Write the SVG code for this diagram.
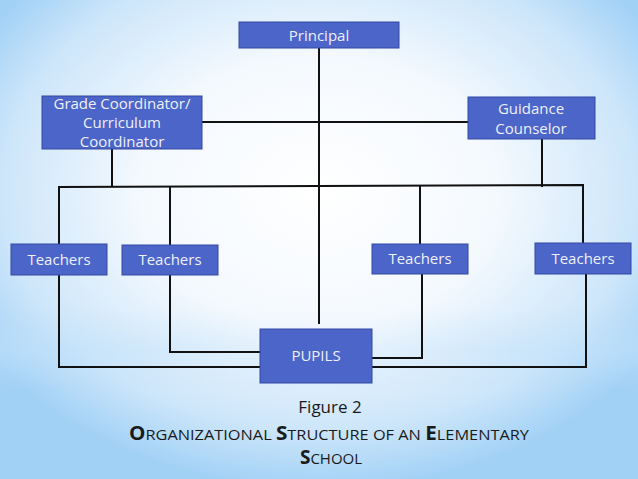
<svg xmlns="http://www.w3.org/2000/svg" width="638" height="479" viewBox="0 0 638 479">
<defs>
<radialGradient id="bg" cx="0.5" cy="0.4" r="0.62" fx="0.5" fy="0.4">
<stop offset="0" stop-color="#ffffff"/>
<stop offset="0.45" stop-color="#f4f9fe"/>
<stop offset="0.8" stop-color="#cde6fa"/>
<stop offset="1" stop-color="#a2d1f6"/>
</radialGradient>
<linearGradient id="band" x1="0" y1="0" x2="0" y2="1">
<stop offset="0" stop-color="#bfe0fa" stop-opacity="0"/>
<stop offset="0.5" stop-color="#bfe0fa" stop-opacity="0.55"/>
<stop offset="1" stop-color="#bfe0fa" stop-opacity="0"/>
</linearGradient>
<linearGradient id="bandmask" x1="0" y1="0" x2="1" y2="0">
<stop offset="0" stop-color="#fff" stop-opacity="1"/>
<stop offset="0.4" stop-color="#fff" stop-opacity="0.3"/>
<stop offset="0.6" stop-color="#fff" stop-opacity="0.3"/>
<stop offset="1" stop-color="#fff" stop-opacity="1"/>
</linearGradient>
<mask id="m"><rect width="638" height="479" fill="url(#bandmask)"/></mask>
</defs>
<style>
.box{fill:#4c65c8;stroke:#3349a3;stroke-width:1}
.lbl{font-family:"Open Sans","Noto Sans",sans-serif;font-size:15px;fill:#eef0fa;text-anchor:middle}
.ln{stroke:#111;stroke-width:2;fill:none}
.cap{font-family:"Open Sans","Noto Sans",sans-serif;fill:#1a1a1a;text-anchor:middle}
</style>
<rect width="638" height="479" fill="url(#bg)"/>
<rect x="0" y="310" width="638" height="80" fill="url(#band)" mask="url(#m)"/>

<g id="connectors">
<line class="ln" x1="319" y1="48" x2="319" y2="324"/>
<line class="ln" x1="202" y1="122" x2="468" y2="122"/>
<line class="ln" x1="112" y1="149" x2="112" y2="187"/>
<line class="ln" x1="542" y1="139" x2="542" y2="187"/>
<polyline class="ln" points="59,244 59,187 583,185 583,243"/>
<line class="ln" x1="170" y1="187" x2="170" y2="245"/>
<line class="ln" x1="420" y1="186" x2="420" y2="244"/>
<polyline class="ln" points="59,275 59,367 260,367"/>
<polyline class="ln" points="170,275 170,352 260,352"/>
<polyline class="ln" points="422,274 422,358 372,358"/>
<polyline class="ln" points="586,274 586,367 372,367"/>
</g>

<g id="principal">
<rect class="box" x="239" y="22" width="160" height="26"/>
<text class="lbl" x="319" y="41">Principal</text>
</g>
<g id="grade-coordinator">
<rect class="box" x="42" y="96" width="160" height="53"/>
<text class="lbl" x="122" y="109">Grade Coordinator/</text>
<text class="lbl" x="122" y="128">Curriculum</text>
<text class="lbl" x="122" y="147">Coordinator</text>
</g>
<g id="guidance-counselor">
<rect class="box" x="468" y="97" width="127" height="42"/>
<text class="lbl" x="531" y="114">Guidance</text>
<text class="lbl" x="531" y="134">Counselor</text>
</g>
<g id="teachers-1">
<rect class="box" x="11" y="244" width="96" height="31"/>
<text class="lbl" x="59" y="265">Teachers</text>
</g>
<g id="teachers-2">
<rect class="box" x="122" y="245" width="96" height="30"/>
<text class="lbl" x="170" y="265">Teachers</text>
</g>
<g id="teachers-3">
<rect class="box" x="372" y="244" width="96" height="30"/>
<text class="lbl" x="420" y="264">Teachers</text>
</g>
<g id="teachers-4">
<rect class="box" x="535" y="243" width="96" height="31"/>
<text class="lbl" x="583" y="264">Teachers</text>
</g>
<g id="pupils">
<rect class="box" x="260" y="329" width="112" height="54"/>
<text class="lbl" x="316" y="361">PUPILS</text>
</g>

<g id="caption">
<text class="cap" x="330" y="413" font-size="17">Figure 2</text>
<text class="cap" x="329" y="440" font-size="15" textLength="400" lengthAdjust="spacingAndGlyphs"><tspan font-size="19" font-weight="bold">O</tspan>RGANIZATIONAL <tspan font-size="19" font-weight="bold">S</tspan>TRUCTURE OF AN <tspan font-size="19" font-weight="bold">E</tspan>LEMENTARY</text>
<text class="cap" x="331" y="464" font-size="15"><tspan font-size="19" font-weight="bold">S</tspan>CHOOL</text>
</g>
</svg>
